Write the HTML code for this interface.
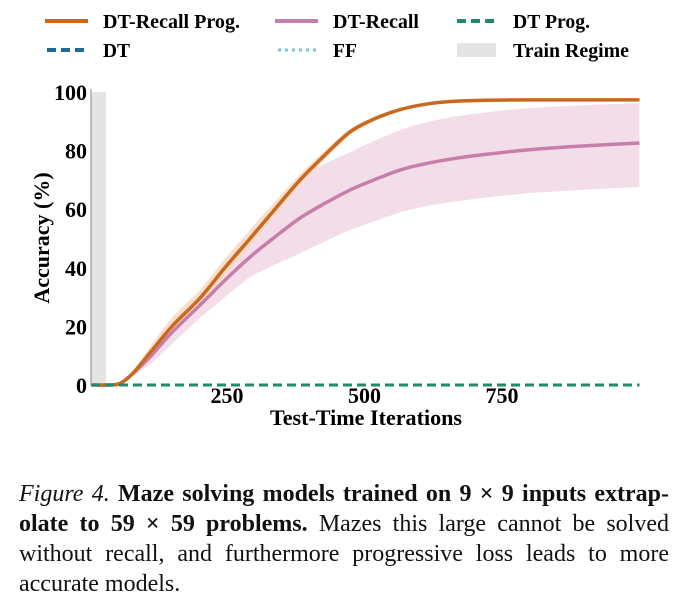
<!DOCTYPE html>
<html><head><meta charset="utf-8"><style>
body{margin:0;width:684px;height:609px;background:#fff;font-family:"Liberation Serif",serif;overflow:hidden}
svg text{font-family:"Liberation Serif",serif;font-weight:bold}
#cap{position:absolute;left:19px;top:479px;width:650px;font-size:24px;line-height:30px;color:#111}
#cap div{text-align:justify;text-align-last:justify;white-space:nowrap}
#cap div.last{text-align-last:left}
</style></head><body>
<svg width="684" height="470" style="position:absolute;left:0;top:0" id="svg">
<g font-size="20.5">
<line x1="45" y1="21" x2="88" y2="21" stroke="#c9691f" stroke-width="4"/><text x="103" y="28" textLength="137" lengthAdjust="spacingAndGlyphs">DT-Recall Prog.</text>
<line x1="275" y1="21" x2="318" y2="21" stroke="#c77fa9" stroke-width="4"/><text x="333" y="28" textLength="86" lengthAdjust="spacingAndGlyphs">DT-Recall</text>
<line x1="457" y1="21" x2="497" y2="21" stroke="#1f8a6e" stroke-width="4" stroke-dasharray="9,5"/><text x="513" y="28" textLength="77" lengthAdjust="spacingAndGlyphs">DT Prog.</text>
<line x1="47" y1="50" x2="88" y2="50" stroke="#1f6a96" stroke-width="4" stroke-dasharray="9,5"/><text x="103" y="57" textLength="27" lengthAdjust="spacingAndGlyphs">DT</text>
<line x1="278" y1="50" x2="318" y2="50" stroke="#7ec4d6" stroke-width="3" stroke-dasharray="3,4"/><text x="333" y="57" textLength="24" lengthAdjust="spacingAndGlyphs">FF</text>
<rect x="457" y="43" width="39" height="14" fill="#e4e4e4"/><text x="513" y="57" textLength="116" lengthAdjust="spacingAndGlyphs">Train Regime</text>
</g>
<g id="plot"></g>
</svg>
<div id="cap">
<div><i>Figure 4.</i> <b>Maze solving models trained on 9 × 9 inputs extrap-</b></div>
<div><b>olate to 59 × 59 problems.</b> Mazes this large cannot be solved</div>
<div>without recall, and furthermore progressive loss leads to more</div>
<div class="last">accurate models.</div>
</div>
<script>
const iters=[5,30,55,79,110,150,201,246,292,337,383,428,474,520,565,610,660,720,800,900,1000];
const recallProg=[0,0,0.5,4,11,20,29.7,40,50,60,70,78.5,86.4,91,94,95.8,96.8,97.2,97.3,97.3,97.3];
const recall=[0,0,0.5,4,9.6,18,27.3,35.7,43.7,50.5,57,62,66.6,70.2,73.4,75.5,77.2,78.7,80.3,81.6,82.6];
const recallHi=[0,0,0.7,5,12,21,31,40,49,60,71,75.5,79.5,83.5,87,89.5,91.5,93,94.5,95.5,96.2];
const recallLo=[0,0,0.3,3,7,14,23,30,37,41,45,49,53,56,59,61,62.5,64,65.5,66.7,67.6];
const progHi=[0,0,0.7,5,13,23,32.5,43,53,62.5,72,80,87.5,91.7,94.5,96.2,97.2,97.6,97.7,97.7,97.7];
const progLo=[0,0,0.3,3,9.5,18,27.5,37.5,47.5,58,68.5,77,85.5,90.3,93.5,95.4,96.4,96.8,96.9,96.9,96.9];
const xTicks=[250,500,750];
const yTicks=[0,20,40,60,80,100];
const X=v=>89.5+v*0.55, Y=v=>385-v*2.93;
const NS="http://www.w3.org/2000/svg",g=document.getElementById('plot');
function mk(t,a,txt){const e=document.createElementNS(NS,t);for(const k in a)e.setAttribute(k,a[k]);if(txt!=null)e.textContent=txt;g.appendChild(e);return e;}
function smooth(a){const p=a.map((v,i)=>[X(iters[i]),Y(v)]);let d='M'+p[0][0].toFixed(1)+','+p[0][1].toFixed(1);
for(let i=0;i<p.length-1;i++){const p0=p[Math.max(0,i-1)],p1=p[i],p2=p[i+1],p3=p[Math.min(p.length-1,i+2)];
const c1=[p1[0]+(p2[0]-p0[0])/6,p1[1]+(p2[1]-p0[1])/6],c2=[p2[0]-(p3[0]-p1[0])/6,p2[1]-(p3[1]-p1[1])/6];
d+='C'+c1.map(n=>n.toFixed(1))+' '+c2.map(n=>n.toFixed(1))+' '+p2[0].toFixed(1)+','+p2[1].toFixed(1);}return d;}
const band=(lo,hi)=>smooth(hi)+iters.slice().reverse().map((x,j)=>'L'+X(x).toFixed(1)+','+Y(lo[lo.length-1-j]).toFixed(1)).join('')+'Z';
let e=mk('rect',{x:91,y:Y(100),width:X(30)-91,height:Y(0)-Y(100),fill:'#e4e4e4'});

e=mk('path',{d:band(recallLo,recallHi),fill:'#f3dde9'});

e=mk('path',{d:band(progLo,progHi),fill:'#f6d7bd',opacity:0.8});

e=mk('path',{d:smooth(recall),fill:'none',stroke:'#c77fa9','stroke-width':3.5,'stroke-linejoin':'round'});

e=mk('path',{d:smooth(recallProg),fill:'none',stroke:'#c9691f','stroke-width':3.5,'stroke-linejoin':'round'});

e=mk('line',{x1:91,y1:Y(0),x2:X(1000),y2:Y(0),stroke:'#1f6a96','stroke-width':3,'stroke-dasharray':'9,5'});

e=mk('line',{x1:91,y1:Y(0),x2:X(1000),y2:Y(0),stroke:'#1f8a6e','stroke-width':3,'stroke-dasharray':'9,5'});

e=mk('line',{x1:91,y1:Y(101),x2:91,y2:Y(0),stroke:'#888','stroke-width':1});

yTicks.forEach(v=>{const t=mk('text',{x:87,y:Y(v)+8,'text-anchor':'end','font-size':22},v);
});
xTicks.forEach(v=>{const t=mk('text',{x:X(v),y:403,'text-anchor':'middle','font-size':22},v);
});
e=mk('text',{x:366,y:425,'text-anchor':'middle','font-size':22,textLength:192,lengthAdjust:'spacingAndGlyphs'},'Test-Time Iterations');

e=mk('text',{x:49,y:238,'text-anchor':'middle','font-size':22,transform:'rotate(-90 49 238)'},'Accuracy (%)');

</script>
</body></html>
